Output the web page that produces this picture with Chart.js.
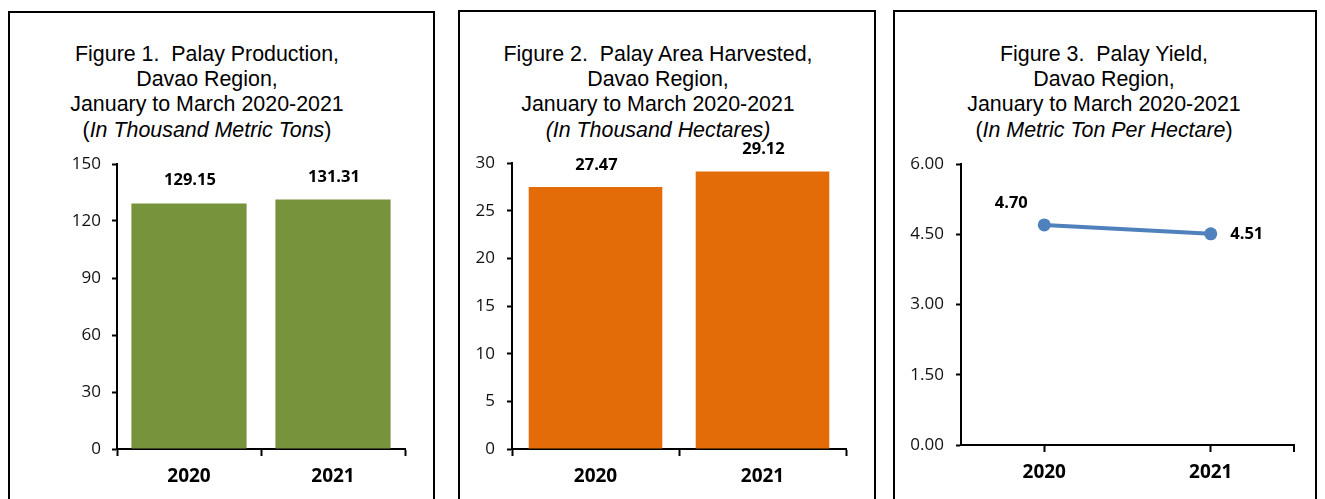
<!DOCTYPE html>
<html>
<head>
<meta charset="utf-8">
<script src="https://cdn.jsdelivr.net/npm/chart.js@4.4.1/dist/chart.umd.min.js"></script>
<style>
  body { margin: 0; background: #fff; width: 1325px; height: 499px; overflow: hidden; position: relative; }
  .panel { position: absolute; border: 2px solid #000; box-sizing: border-box; height: 540px; }
  #p1 { left: 8px; top: 11px; width: 427px; }
  #p2 { left: 458px; top: 10px; width: 418px; }
  #p3 { left: 893px; top: 10px; width: 424px; }
  .title { position: absolute; top: 42px; width: 400px; text-align: center; font: 21.4px "Liberation Sans", Arial, sans-serif; line-height: 25.2px; color: #000; }
  canvas { position: absolute; }
</style>
</head>
<body>
<div class="panel" id="p1"></div>
<div class="panel" id="p2"></div>
<div class="panel" id="p3"></div>

<div class="title" style="left:7px">Figure 1.&nbsp; Palay Production,<br>Davao Region,<br>January to March 2020-2021<br>(<i>In Thousand Metric Tons</i>)</div>
<div class="title" style="left:458px">Figure 2.&nbsp; Palay Area Harvested,<br>Davao Region,<br>January to March 2020-2021<br><i>(In Thousand Hectares)</i></div>
<div class="title" style="left:904px">Figure 3.&nbsp; Palay Yield,<br>Davao Region,<br>January to March 2020-2021<br>(<i>In Metric Ton Per Hectare</i>)</div>

<canvas id="chart1" width="390" height="369" style="left:40px;top:130px"></canvas>
<canvas id="chart2" width="405" height="369" style="left:465px;top:130px"></canvas>
<canvas id="chart3" width="410" height="369" style="left:900px;top:130px"></canvas>

<script>
// Data
const years = ['2020', '2021'];
const production = [129.15, 131.31];
const areaHarvested = [27.47, 29.12];
const yieldPerHa = [4.70, 4.51];
const productionTicks = [0, 30, 60, 90, 120, 150];
const areaTicks = [0, 5, 10, 15, 20, 25, 30];
const yieldTicks = [0, 1.5, 3, 4.5, 6];

const labelFont = '"Open Sans"';

// Value labels above the marks (no datalabels plugin available)
const valueLabels = {
  id: 'valueLabels',
  afterDatasetsDraw(chart, args, opts) {
    const ctx = chart.ctx;
    const meta = chart.getDatasetMeta(0);
    const data = chart.data.datasets[0].data;
    ctx.save();
    ctx.font = 'bold 16.5px ' + labelFont;
    ctx.fillStyle = '#000';
    ctx.textAlign = 'center';
    ctx.textBaseline = 'middle';
    meta.data.forEach((el, i) => {
      const off = opts.offsets[i];
      ctx.fillText(data[i].toFixed(2), el.x + off.dx, el.y + off.dy);
    });
    ctx.restore();
  }
};

// Extra tick at the right end of the x axis (line chart)
const endTick = {
  id: 'endTick',
  afterDraw(chart) {
    const { ctx, chartArea } = chart;
    ctx.save();
    ctx.strokeStyle = '#000';
    ctx.lineWidth = 2;
    ctx.beginPath();
    ctx.moveTo(chartArea.right, chartArea.bottom);
    ctx.lineTo(chartArea.right, chartArea.bottom + 7);
    ctx.stroke();
    ctx.restore();
  }
};

function yAxis(ticks, width, pad, fmt) {
  return {
    min: ticks[0],
    max: ticks[ticks.length - 1],
    afterBuildTicks: s => { s.ticks = ticks.map(v => ({ value: v })); },
    afterFit: s => { s.width = width; },
    grid: { drawOnChartArea: false, tickLength: 5, tickWidth: 2, tickColor: '#000' },
    border: { color: '#000', width: 2 },
    ticks: { padding: pad, color: '#111', font: { family: labelFont, size: 17 }, callback: v => fmt(v) }
  };
}

function xAxis(height, offset) {
  return {
    offset: true,
    afterFit: s => { s.height = height; },
    grid: { drawOnChartArea: false, tickLength: 7, tickWidth: 2, tickColor: '#000', offset: offset },
    border: { color: '#000', width: 2 },
    ticks: { padding: 9, color: '#000', font: { family: labelFont, size: 19, weight: 'bold' }, maxRotation: 0 }
  };
}

function baseOptions(padding, scales, offsets) {
  return {
    responsive: false,
    animation: false,
    layout: { padding: padding },
    plugins: {
      legend: { display: false },
      tooltip: { enabled: false },
      valueLabels: { offsets: offsets }
    },
    scales: scales
  };
}

// Figure 1 - production
new Chart(document.getElementById('chart1'), {
  type: 'bar',
  data: {
    labels: years,
    datasets: [{
      data: production,
      backgroundColor: '#77933C',
      categoryPercentage: 0.8,
      barPercentage: 1
    }]
  },
  options: baseOptions(
    { top: 34, right: 25, left: 0, bottom: 0 },
    { x: xAxis(50, true), y: yAxis(productionTicks, 77, 11, v => String(v)) },
    [{ dx: 1, dy: -23 }, { dx: 1, dy: -22 }]
  ),
  plugins: [valueLabels]
});

// Figure 2 - area harvested
new Chart(document.getElementById('chart2'), {
  type: 'bar',
  data: {
    labels: years,
    datasets: [{
      data: areaHarvested,
      backgroundColor: '#E36C09',
      categoryPercentage: 0.8,
      barPercentage: 1
    }]
  },
  options: baseOptions(
    { top: 33, right: 24, left: 0, bottom: 0 },
    { x: xAxis(50, true), y: yAxis(areaTicks, 47, 12, v => String(v)) },
    [{ dx: 1, dy: -22 }, { dx: 1, dy: -22 }]
  ),
  plugins: [valueLabels]
});

// Figure 3 - yield
new Chart(document.getElementById('chart3'), {
  type: 'line',
  data: {
    labels: years,
    datasets: [{
      data: yieldPerHa,
      borderColor: '#4F81BD',
      backgroundColor: '#4F81BD',
      borderWidth: 4,
      tension: 0,
      pointRadius: 6.5,
      pointBorderWidth: 0,
      pointBackgroundColor: '#4F81BD',
      clip: false
    }]
  },
  options: baseOptions(
    { top: 34, right: 16, left: 0, bottom: 0 },
    { x: xAxis(54, false), y: yAxis(yieldTicks, 61, 12, v => v.toFixed(2)) },
    [{ dx: -33, dy: -22 }, { dx: 36, dy: 1 }]
  ),
  plugins: [valueLabels, endTick]
});
</script>
</body>
</html>
